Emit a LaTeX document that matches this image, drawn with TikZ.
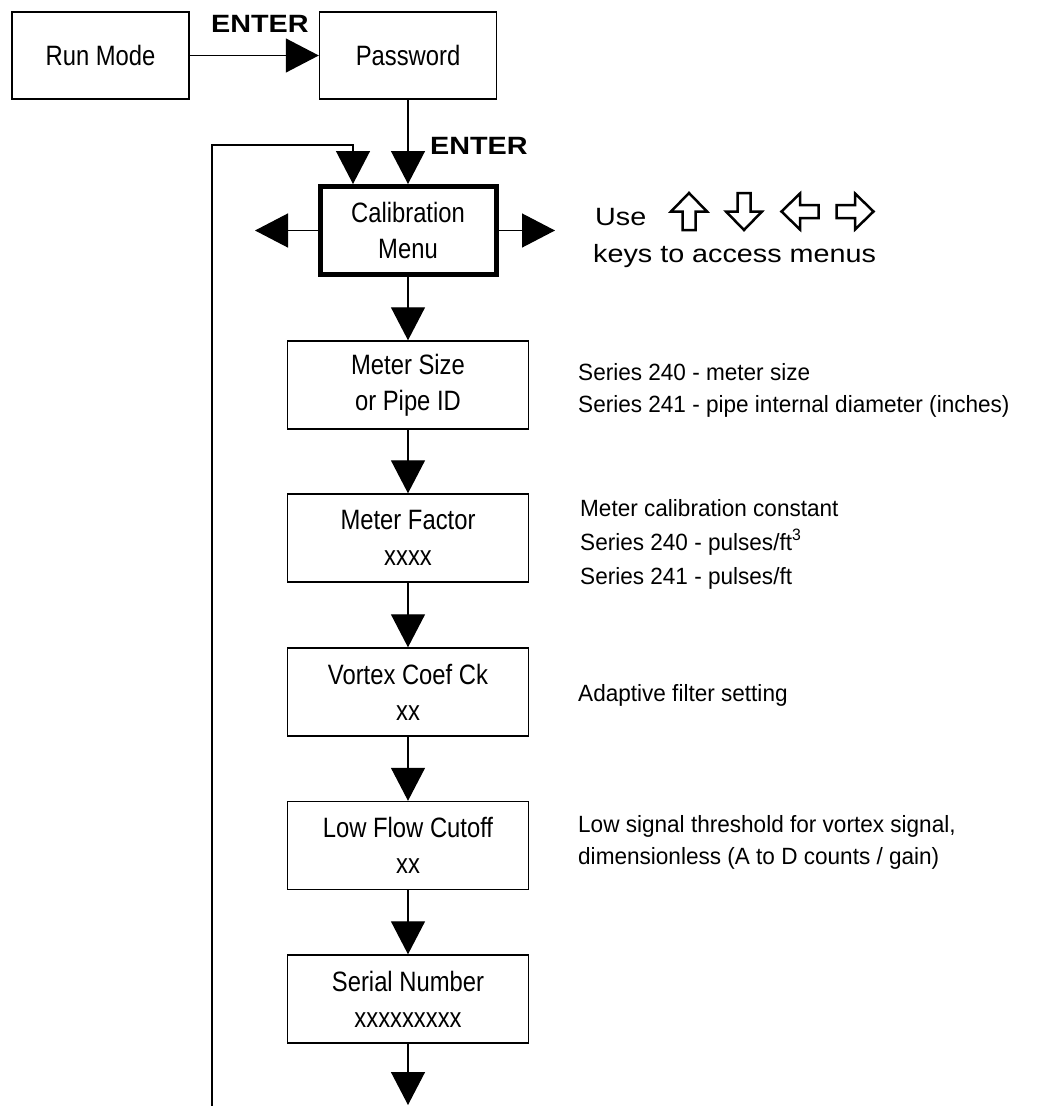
\documentclass[tikz,border=0pt]{standalone}
\usepackage{fontspec}
\setmainfont{Liberation Sans}
\newfontfamily\boxf{Liberation Sans}[FakeStretch=0.85]
\newfontfamily\notef{Liberation Sans}[FakeStretch=0.96]
\newfontfamily\widef{Liberation Sans}[FakeStretch=1.15]
\usetikzlibrary{arrows.meta}
\begin{document}
\begin{tikzpicture}[x=1pt,y=-1pt,
  anybox/.style={draw, line width=1.4pt, inner sep=0pt, align=center,
    font=\boxf\fontsize{28}{36}\selectfont},
  topbox/.style={anybox, minimum width=177pt, minimum height=87pt},
  menubox/.style={anybox, minimum width=241pt, minimum height=88pt},
  calbox/.style={anybox, line width=5pt, minimum width=176pt, minimum height=88pt},
  conn/.style={line width=1.3pt, -{Triangle[length=33pt,width=34pt]}},
  note/.style={anchor=base west, inner sep=0pt, font=\notef\fontsize{23.5}{32}\selectfont},
  usenote/.style={anchor=base west, inner sep=0pt, font=\widef\fontsize{25}{32}\selectfont},
  enterlbl/.style={anchor=base west, inner sep=0pt, font=\widef\bfseries\fontsize{25}{30}\selectfont},
  keyicon/.style={line width=2.5pt, line join=miter}
]
\useasboundingbox (0,0) rectangle (1048,1106);

% boxes
\node[topbox] (run) at (100.5,55.5) {Run Mode};
\node[topbox] (pw) at (408,55.5) {Password};
\node[calbox] (cal) at (408,230.5) {Calibration\\Menu};
\node[menubox] (ms) at (408,385) {Meter Size\\or Pipe ID};
\node[menubox] (mf) at (408,538) {Meter Factor\\xxxx};
\node[menubox] (vc) at (408,692) {Vortex Coef Ck\\xx};
\node[menubox] (lf) at (408,845.5) {Low Flow Cutoff\\xx};
\node[menubox] (sn) at (408,999) {Serial Number\\xxxxxxxxx};

% free ends
\coordinate (calL) at (255,230.5);
\coordinate (calR) at (555,230.5);
\coordinate (loopbot) at (212,1106);
\coordinate (loopcorner) at (353,145);
\coordinate (calin) at (353,184);
\coordinate (endtip) at (408,1105);

% connectors
\draw[conn] (run) -- (pw);
\draw[conn] (pw) -- (cal);
\draw[conn] (cal.west) -- (calL);
\draw[conn] (cal.east) -- (calR);
\draw[conn] (cal) -- (ms);
\draw[conn] (ms) -- (mf);
\draw[conn] (mf) -- (vc);
\draw[conn] (vc) -- (lf);
\draw[conn] (lf) -- (sn);
\draw[conn] (sn) -- (endtip);
\draw[conn] (loopbot) |- (loopcorner) -- (calin);

% labels
\node[enterlbl] (ent1) at (211,32) {ENTER};
\node[enterlbl] (ent2) at (430,154) {ENTER};

% use keys
\node[usenote] (use) at (595,225) {Use};
\node[usenote] (keys) at (593,262) {keys to access menus};
\begin{scope}[shift={(689,211.5)}]
  \draw[keyicon] (0,-18.5) -- (18,0) -- (6.5,0) -- (6.5,18.5) -- (-6.5,18.5) -- (-6.5,0) -- (-18,0) -- cycle;
\end{scope}
\begin{scope}[shift={(744,211.5)},rotate=180]
  \draw[keyicon] (0,-18.5) -- (18,0) -- (6.5,0) -- (6.5,18.5) -- (-6.5,18.5) -- (-6.5,0) -- (-18,0) -- cycle;
\end{scope}
\begin{scope}[shift={(800,211.5)},rotate=90]
  \draw[keyicon] (0,-18.5) -- (18,0) -- (6.5,0) -- (6.5,18.5) -- (-6.5,18.5) -- (-6.5,0) -- (-18,0) -- cycle;
\end{scope}
\begin{scope}[shift={(855,211.5)},rotate=-90]
  \draw[keyicon] (0,-18.5) -- (18,0) -- (6.5,0) -- (6.5,18.5) -- (-6.5,18.5) -- (-6.5,0) -- (-18,0) -- cycle;
\end{scope}

% notes
\node[note] (n1) at (578,380) {Series 240 - meter size};
\node[note] (n2) at (578,412) {Series 241 - pipe internal diameter (inches)};
\node[note] (n3) at (580,516) {Meter calibration constant};
\node[note] (n4) at (580,550) {Series 240 - pulses/ft\textsuperscript{3}};
\node[note] (n5) at (580,584) {Series 241 - pulses/ft};
\node[note] (n6) at (578,701) {Adaptive filter setting};
\node[note] (n7) at (578,832) {Low signal threshold for vortex signal,};
\node[note] (n8) at (578,864) {dimensionless (A to D counts / gain)};
\end{tikzpicture}
\end{document}
